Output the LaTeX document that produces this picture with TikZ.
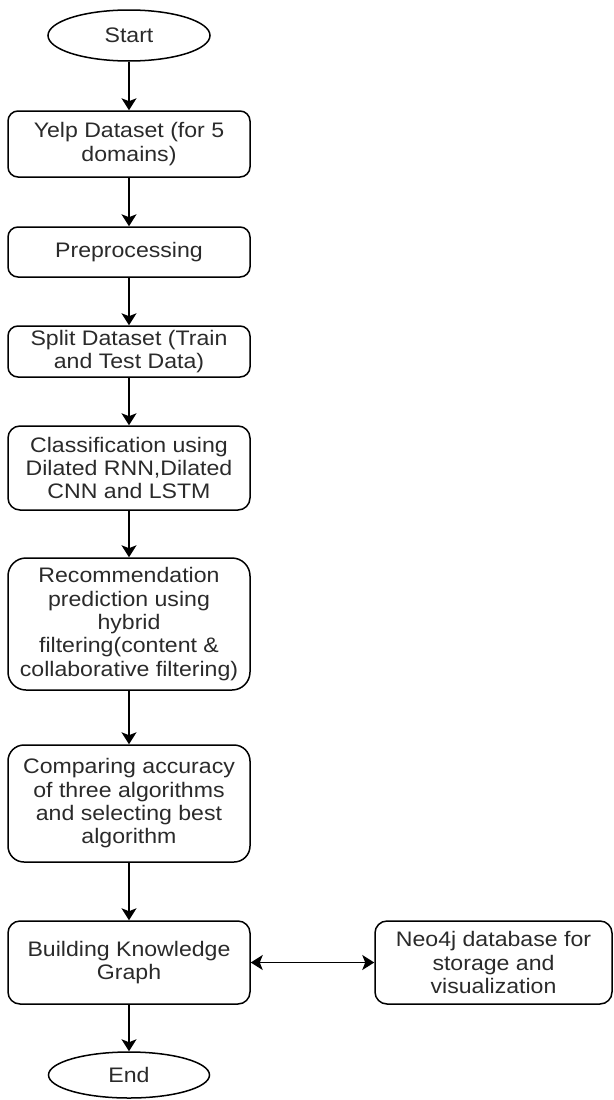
\documentclass[tikz,border=0pt]{standalone}
\usepackage{fontspec}
\setmainfont{Liberation Sans}[FakeStretch=1.1]
\usetikzlibrary{shapes.geometric,arrows.meta}
\definecolor{txt}{HTML}{2A2A2A}
\begin{document}
\begin{tikzpicture}[x=1pt,y=-1pt,
  base/.style={draw=black,line width=1.5pt,text=txt,align=center,inner sep=0pt,
    font=\fontsize{21}{23.3}\selectfont},
  box/.style={base,rectangle,rounded corners=#1,minimum width=242pt},
  box/.default=10pt,
  term/.style={base,ellipse},
  tip/.tip={Stealth[length=12pt,width=15pt,inset=3pt]},
  arr/.style={line width=1.5pt,-tip},
  darr/.style={line width=1.5pt,tip-tip}]
\useasboundingbox (0,0) rectangle (613,1100);
\node[term,minimum width=162pt,minimum height=51pt] (start) at (129,35.5) {Start};
\node[box,minimum height=66pt] (yelp) at (129,144) {Yelp Dataset (for 5\\domains)};
\node[box,minimum height=50pt] (prep) at (129,252) {Preprocessing};
\node[box,minimum height=51pt] (split) at (129,351.5) {Split Dataset (Train\\and Test Data)};
\node[box=12pt,minimum height=84pt] (class) at (129,468) {Classification using\\Dilated RNN,Dilated\\CNN and LSTM};
\node[box=18pt,minimum height=132pt] (rec) at (129,624) {Recommendation\\prediction using\\hybrid\\filtering(content \&\\collaborative filtering)};
\node[box=16pt,minimum height=117pt] (comp) at (129,803.5) {Comparing accuracy\\of three algorithms\\and selecting best\\algorithm};
\node[box=12pt,minimum height=83pt] (build) at (129,962.5) {Building Knowledge\\Graph};
\node[box=12pt,minimum height=83pt,minimum width=237pt] (neo) at (493.5,962.5) {Neo4j database for\\storage and\\visualization};
\node[term,minimum width=161pt,minimum height=46pt] (end) at (129,1075) {End};
\draw[arr] (start) -- (yelp);
\draw[arr] (yelp) -- (prep);
\draw[arr] (prep) -- (split);
\draw[arr] (split) -- (class);
\draw[arr] (class) -- (rec);
\draw[arr] (rec) -- (comp);
\draw[arr] (comp) -- (build);
\draw[arr] (build) -- (end);
\draw[darr] (build) -- (neo);
\end{tikzpicture}
\end{document}
